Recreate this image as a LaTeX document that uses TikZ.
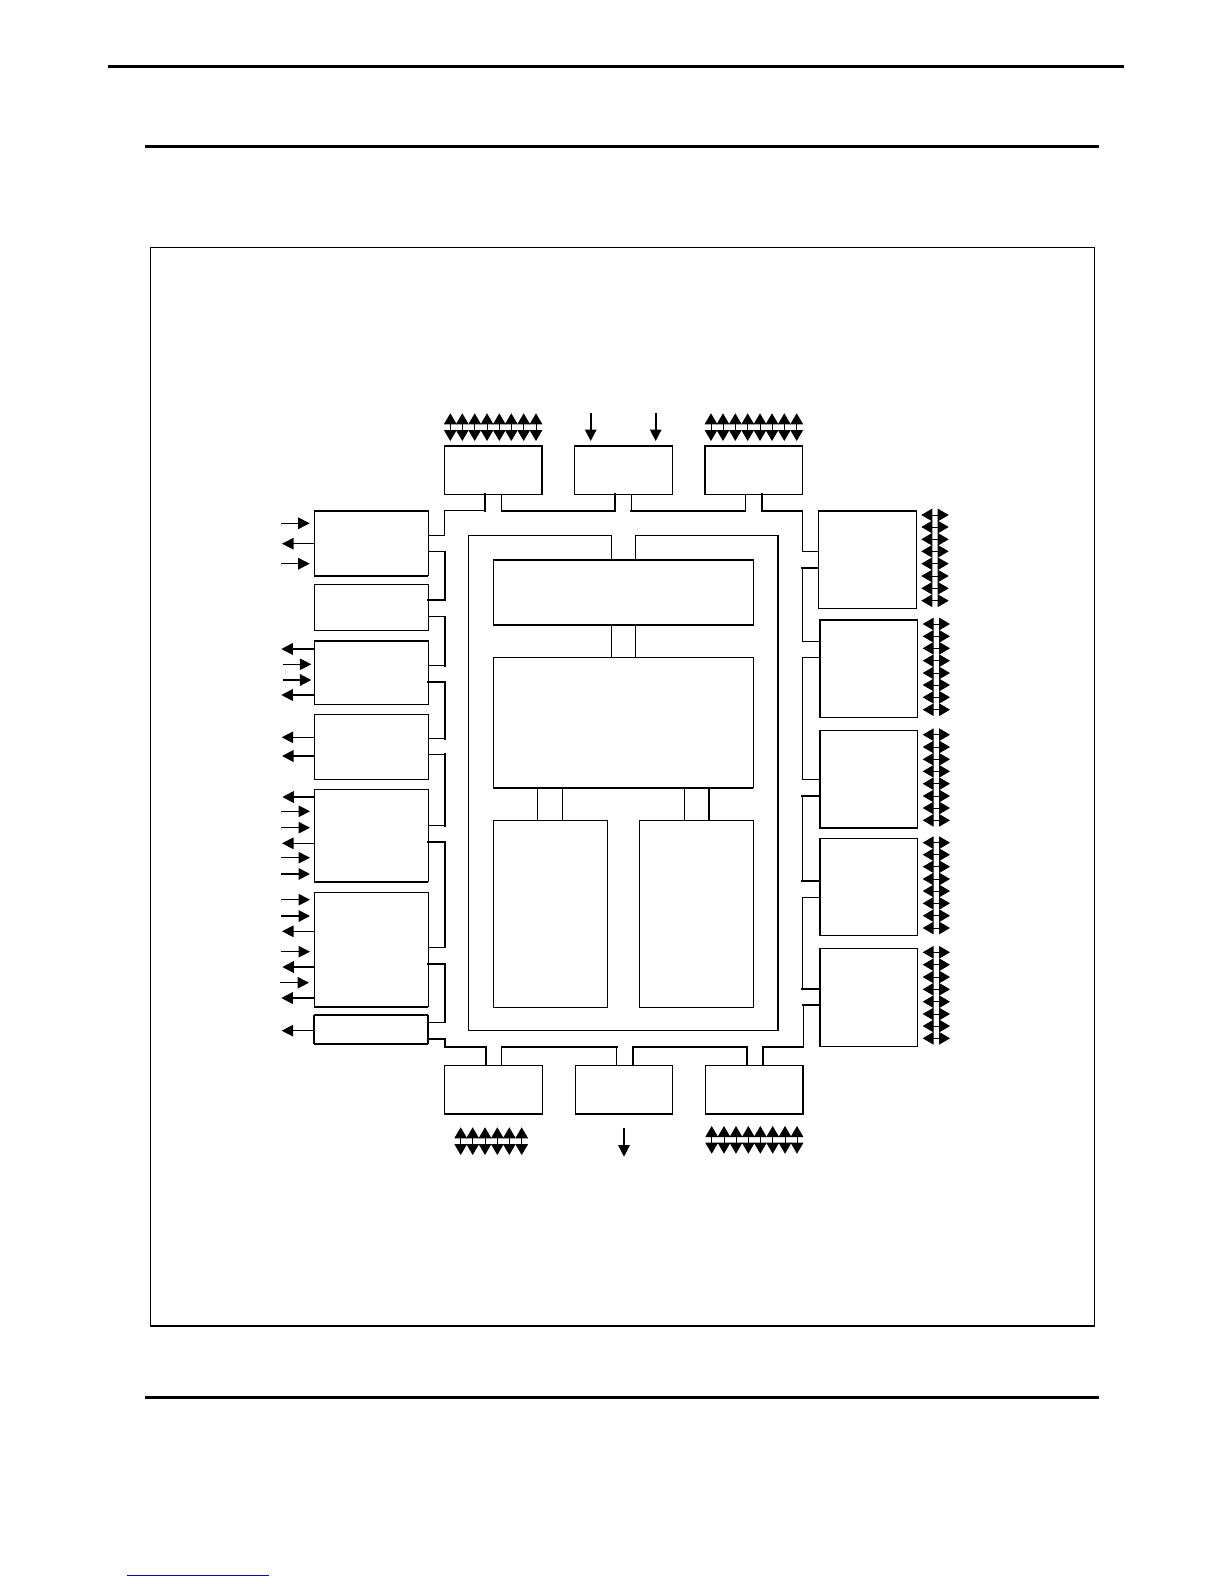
\documentclass[tikz,border=0pt]{standalone}
\usetikzlibrary{arrows.meta}
\definecolor{linkblue}{RGB}{10,10,170}
\tikzset{
  thinw/.style={line width=1.1pt,line cap=rect,line join=miter},
  thickw/.style={line width=2pt,line cap=rect,line join=miter},
  rulew/.style={line width=3pt},
  blk/.style={draw,line width=1.1pt,rectangle,inner sep=0pt,outer sep=0pt,anchor=north west},
  tip/.style={line width=1.1pt,-{Triangle[length=11.5pt,width=11.5pt]}},
  bitip/.style={line width=1pt,{Triangle[length=11pt,width=12.6pt]}-{Triangle[length=11pt,width=12.6pt]}},
}
% name, x1, y1, x2, y2
\newcommand\blockat[5]{\node[blk,minimum width={(#4-#2)*1pt},minimum height={(#5-#3)*1pt}] (#1) at (#2,#3) {};}
% thick sides of a block
\newcommand\heavy[3]{\draw[thickw,line cap=butt] (#1.#2) -- (#1.#3);}
% horizontal double-headed group: prefix, x1, x2, y list
\newcommand\bihor[4]{\foreach \yy [count=\i] in {#4}{\coordinate (#1a\i) at (#2,\yy); \coordinate (#1b\i) at (#3,\yy); \draw[bitip] (#1a\i) -- (#1b\i);}}
% vertical double-headed group: prefix, y1, y2, x list
\newcommand\bivert[4]{\foreach \xx [count=\i] in {#4}{\coordinate (#1a\i) at (\xx,#2); \coordinate (#1b\i) at (\xx,#3); \draw[bitip] (#1a\i) -- (#1b\i);}}
% incoming arrow on the left: name, x1, x2, y, width style
\newcommand\arrin[5]{\coordinate (#1s) at (#2,#4); \coordinate (#1e) at (#3,#4); \draw[tip,#5] (#1s) -- (#1e);}
% outgoing arrow on the left: name, box, tip x, y, width style
\newcommand\arrout[5]{\coordinate (#1e) at (#3,#4); \draw[tip,#5] (#2.west |- #1e) -- (#1e);}
\begin{document}
\begin{tikzpicture}[x=1pt,y=-1pt]
\useasboundingbox (0,0) rectangle (1224,1584);
% page rules
\coordinate (r1a) at (108,66.3); \coordinate (r1b) at (1124,66.3);
\coordinate (r2a) at (145,146.3); \coordinate (r2b) at (1099,146.3);
\coordinate (r3a) at (145,1397.3); \coordinate (r3b) at (1099,1397.3);
\coordinate (r4a) at (127,1575.3); \coordinate (r4b) at (269,1575.3);
\draw[rulew] (r1a) -- (r1b);
\draw[rulew] (r2a) -- (r2b);
\draw[rulew] (r3a) -- (r3b);
\draw[line width=1pt,linkblue] (r4a) -- (r4b);
% outer frame
\blockat{frame}{150.3}{247.3}{1094.7}{1325.5}
\heavy{frame}{south west}{south east}
% top blocks
\blockat{U1}{444.3}{445.7}{542.3}{494.3}
\blockat{U2}{574.3}{445.7}{672.3}{494.3}
\blockat{U3}{705}{445.7}{802.3}{494.3}
\heavy{U1}{north east}{south east}\heavy{U1}{north west}{north east}
\heavy{U2}{north west}{north east}
\heavy{U3}{north west}{north east}\heavy{U3}{north west}{south west}
% left blocks
\blockat{L1}{314.3}{510.7}{428.3}{575.7}
\blockat{L2}{314.3}{584.3}{428.3}{630.3}
\blockat{L3}{314.3}{640.7}{428.3}{704.3}
\blockat{L4}{314.3}{714.3}{428.3}{779.3}
\blockat{L5}{314.3}{789.3}{428.3}{881.7}
\blockat{L6}{314.3}{892.3}{428.3}{1006.7}
\blockat{L7}{313.7}{1015.3}{427.7}{1043.7}
\heavy{L1}{north west}{north east}\heavy{L1}{south west}{south east}
\heavy{L3}{north west}{north east}
\heavy{L5}{south west}{south east}
\heavy{L6}{south west}{south east}
\heavy{L7}{north west}{north east}\heavy{L7}{south west}{south east}
\heavy{L7}{north west}{south west}\heavy{L7}{north east}{south east}
% right blocks
\blockat{R1}{818.3}{510.7}{916.3}{608.3}
\blockat{R2}{819.7}{620}{917.3}{717.3}
\blockat{R3}{819.7}{730.3}{917.3}{828.3}
\blockat{R4}{819.7}{838.3}{917.3}{935.3}
\blockat{R5}{819.7}{948.3}{917.3}{1046.3}
\heavy{R1}{north west}{north east}
\heavy{R2}{north west}{north east}\heavy{R2}{north west}{south west}
\heavy{R3}{north west}{south west}\heavy{R3}{south west}{south east}
\heavy{R4}{north west}{south west}
\heavy{R5}{north west}{south west}
% bottom blocks
\blockat{B1}{444.7}{1065.3}{542.3}{1114}
\blockat{B2}{575.3}{1065.3}{672.3}{1114}
\blockat{B3}{705.7}{1065.3}{803.3}{1114}
\heavy{B1}{south west}{south east}
\heavy{B2}{south west}{south east}
\heavy{B3}{south west}{south east}\heavy{B3}{north east}{south east}
% inner blocks
\blockat{core}{493.3}{559.7}{753.3}{625}
\blockat{mid}{493.3}{657.3}{753.3}{787.7}
\blockat{memL}{493.3}{820.3}{607.3}{1007.3}
\blockat{memR}{639.3}{820.3}{753.3}{1007.3}
\heavy{core}{north west}{north east}\heavy{core}{south west}{south east}
\heavy{mid}{south west}{south east}
% ring inside: open frame reaching the core block
\draw[thinw] (611.3,0 |- core.north) |- (468.3,535.3) |- (778,1030.7) |- (635.3,535.3) -- (635.3,0 |- core.north);
% links core-mid-memories
\draw[thinw] (611.3,0 |- core.south) -- (611.3,0 |- mid.north);
\draw[thinw] (635.3,0 |- core.south) -- (635.3,0 |- mid.north);
\draw[thinw] (537.7,0 |- mid.south) -- (537.7,0 |- memL.north);
\draw[thinw] (562.3,0 |- mid.south) -- (562.3,0 |- memL.north);
\draw[thinw] (684.3,0 |- mid.south) -- (684.3,0 |- memR.north);
\draw[thinw] (709,0 |- mid.south) -- (709,0 |- memR.north);
% outer bus, clockwise from the top left
\draw[thinw] (485,0 |- U1.south) |- (444.3,510.7) |- (L1.east |- 0,535.3);
\draw[thickw] (485,0 |- U1.south) -- (485,510.7);
\draw[thinw] (501.7,0 |- U1.south) |- (615.3,510.7) -- (615.3,0 |- U2.south);
\draw[thickw] (501.7,510.7) -- (615.3,510.7) -- (615.3,0 |- U2.south);
\draw[thinw] (631.3,0 |- U2.south) |- (745.3,510.7) -- (745.3,0 |- U3.south);
\draw[thickw] (631.3,510.7) -- (745.3,510.7);
\draw[thinw] (761.7,0 |- U3.south) |- (802.3,510.7) |- (R1.west |- 0,551.3);
\draw[thickw] (761.7,0 |- U3.south) |- (802.3,510.7);
\draw[thinw] (R1.west |- 0,568) -| (802.3,641.3) -- (R2.west |- 0,641.3);
\draw[thickw] (R1.west |- 0,568) -- (802.3,568);
\draw[thinw] (R2.west |- 0,657.3) -| (802.3,779.3) -- (R3.west |- 0,779.3);
\draw[thinw] (R3.west |- 0,796) -| (802.3,881) -- (R4.west |- 0,881);
\draw[thickw] (R3.west |- 0,796) -- (802.3,796);
\draw[thickw] (R4.west |- 0,881) -- (802.3,881);
\draw[thinw] (R4.west |- 0,897.3) -| (802.3,988.7) -- (R5.west |- 0,988.7);
\draw[thickw] (R5.west |- 0,988.7) -- (802.3,988.7);
\draw[thinw] (R5.west |- 0,1005) -| (803.3,1047) -| (762.7,0 |- B3.north);
\draw[thickw] (R5.west |- 0,1005) -- (803.3,1005);
\draw[thickw] (803.3,1047) -| (762.7,0 |- B3.north);
\draw[thickw] (747,0 |- B3.north) |- (633,1047) -- (633,0 |- B2.north);
\draw[thinw] (616.7,0 |- B2.north) |- (501.7,1047) -- (501.7,0 |- B1.north);
\draw[thickw] (616.7,1047) -- (501.7,1047);
\draw[thickw] (486.3,0 |- B1.north) |- (445,1047);
\draw[thinw] (445,1047) |- (L7.east |- 0,1038.7);
\draw[thickw] (445,1038.7) -- (L7.east |- 0,1038.7);
\draw[thinw] (L7.east |- 0,1022.3) -| (445,964) -- (L6.east |- 0,964);
\draw[thickw] (L6.east |- 0,964) -- (445,964);
\draw[thinw] (L6.east |- 0,947.3) -| (445,842) -- (L5.east |- 0,842);
\draw[thickw] (445,947.3) |- (L5.east |- 0,842);
\draw[thinw] (L5.east |- 0,825.7) -| (445,754.3) -- (L4.east |- 0,754.3);
\draw[thickw] (445,825.7) -- (445,754.3);
\draw[thinw] (L4.east |- 0,738.7) -| (445,682) -- (L3.east |- 0,682);
\draw[thickw] (445,738.7) |- (L3.east |- 0,682);
\draw[thinw] (L3.east |- 0,665.7) -| (445,616.7) -- (L2.east |- 0,616.7);
\draw[thickw] (445,665.7) -- (445,616.7);
\draw[thinw] (L2.east |- 0,600) -| (445,551.7) -- (L1.east |- 0,551.7);
\draw[thickw] (L2.east |- 0,600) -| (445,551.7);
% top pins
\bivert{ta}{413.3}{441}{450.3,462.3,474.7,487,499.3,511.3,523.7,536}
\bivert{tc}{413.3}{441}{711,723,735.3,747.7,760,772,784.3,796.7}
\coordinate (tb1s) at (590.7,413.3); \coordinate (tb1e) at (590.7,441);
\coordinate (tb2s) at (655.7,413.3); \coordinate (tb2e) at (655.7,441);
\draw[tip,line width=1.6pt] (tb1s) -- (tb1e);
\draw[tip,line width=1.6pt] (tb2s) -- (tb2e);
% bottom pins
\bivert{ba}{1127.3}{1155}{460.7,472.7,485,497.3,509.3,521.7}
\bivert{bc}{1126}{1153.7}{711.7,724,736,748.3,760.3,772.7,785,797}
\coordinate (bb1s) at (624,1128); \coordinate (bb1e) at (624,1156.7);
\draw[tip] (bb1s) -- (bb1e);
% right pins
\bihor{ra}{921.3}{948.7}{515,527,539.3,551.3,563.7,576,588.3,600.7}
\bihor{rb}{922.7}{950}{624,636.3,648.3,660.7,673,685,697.3,709.7}
\bihor{rc}{922.7}{950}{734.7,747,759.3,771.3,783.7,796,808,820.3}
\bihor{rd}{922.7}{950}{842.7,854.7,866.7,879,891,903.3,915.7,928}
\bihor{re}{922.7}{950}{952.3,964.7,977,989.3,1001.7,1014,1026,1038.3}
% left pins
\arrin{la}{281}{309.7}{523.3}{}
\arrout{lb}{L1}{282}{543.7}{}
\arrin{lc}{281}{309.7}{563.7}{}
\arrout{ld}{L3}{281.3}{649}{line width=2pt}
\arrin{le}{283}{311.3}{664.3}{}
\arrin{lf}{283}{311.3}{680}{line width=2pt}
\arrout{lg}{L3}{281.3}{695}{line width=2pt}
\arrout{lh}{L4}{281.7}{737.3}{}
\arrout{li}{L4}{282}{756}{line width=2pt}
\arrout{lj}{L5}{282.3}{797}{line width=2pt}
\arrin{lk}{281}{310}{811.3}{}
\arrin{ll}{281}{310}{827.7}{}
\arrout{lm}{L5}{282}{843.3}{}
\arrin{ln}{281}{310}{857.7}{}
\arrin{lo}{281}{310}{874}{line width=2pt}
\arrin{lp}{281}{310}{899.7}{}
\arrin{lq}{281}{310}{916}{line width=2pt}
\arrout{lr}{L6}{282}{931.3}{}
\arrin{ls}{281}{310}{951.7}{}
\arrout{lt}{L6}{282.3}{967}{line width=2pt}
\arrin{lu}{280}{309}{982.7}{}
\arrout{lv}{L6}{281.3}{998}{line width=2pt}
\arrout{lw}{L7}{281.7}{1030.7}{}
\end{tikzpicture}
\end{document}
